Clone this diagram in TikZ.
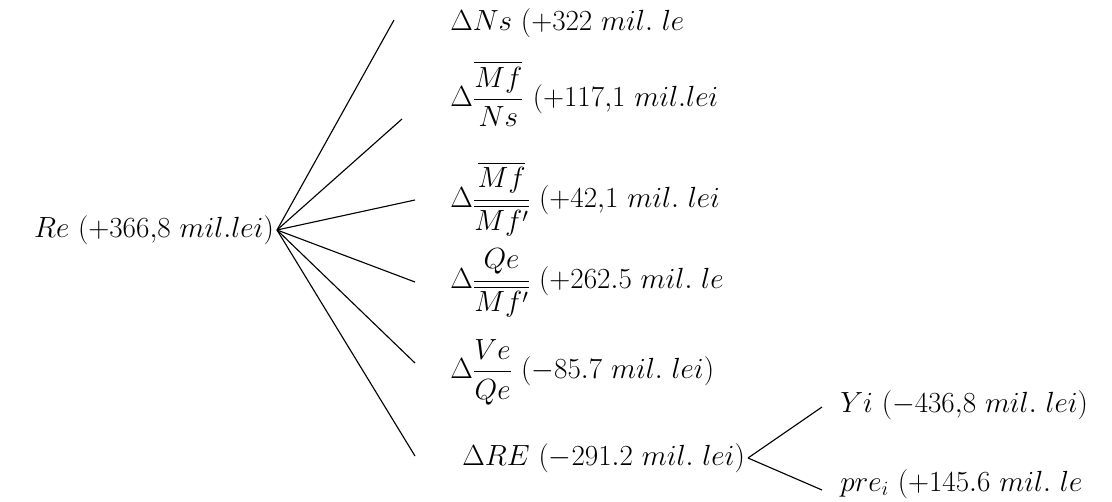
\documentclass[tikz,border=0pt]{standalone}
\usepackage{amsmath,amssymb}
\usepackage{tikz}
\usetikzlibrary{positioning,calc}

\tikzset{
	lbl/.style={anchor=west,inner sep=0pt,font=\fontsize{20.74}{25}\selectfont},
	fork/.style={anchor=east,inner ysep=0pt,inner xsep=2pt,font=\fontsize{20.74}{25}\selectfont},
	branch/.style={line width=0.8pt}
}

\begin{document}
\begin{tikzpicture}[x=0.025cm,y=-0.025cm]
						\useasboundingbox (0,0) rectangle (1112,501);
						\node[fork] (re) at (277,230) {$Re\ (+366{,}8\ mil.lei)$};
						\node[lbl] (ns) at (450,23) {$\Delta Ns\ (+322\ mil.\ le$};
						\node[lbl] (mfns) at (450,94) {$\Delta\dfrac{\overline{Mf}}{Ns}\ (+117{,}1\ mil.lei$};
						\node[lbl] (mfmf) at (450,199) {$\Delta\dfrac{\overline{Mf}}{\overline{Mf'}}\ (+42{,}1\ mil.\ lei$};
						\node[lbl] (qemf) at (450,283) {$\Delta\dfrac{Qe}{\overline{Mf'}}\ (+262.5\ mil.\ le$};
						\node[lbl] (veqe) at (450,372) {$\Delta\dfrac{Ve}{Qe}\ (-85.7\ mil.\ lei)$};
						\node[fork] (dre) at (748,458) {$\Delta RE\ (-291.2\ mil.\ lei)$};
						\node[lbl] (yi) at (840,405) {$Yi\ (-436{,}8\ mil.\ lei)$};
						\node[lbl] (pre) at (840,484) {$pre_i\ (+145.6\ mil.\ le$};
						\foreach \x/\y [count=\i] in {394/20,402/119,415/200,415/282,415/363,415/456} {
							\coordinate (e\i) at (\x,\y);
							\draw[branch] (re.east) -- (e\i);
						}
						\coordinate (f1) at (822,407);
						\coordinate (f2) at (822,490);
						\draw[branch] (dre.east) -- (f1);
						\draw[branch] (dre.east) -- (f2);
					\end{tikzpicture}
\end{document}
